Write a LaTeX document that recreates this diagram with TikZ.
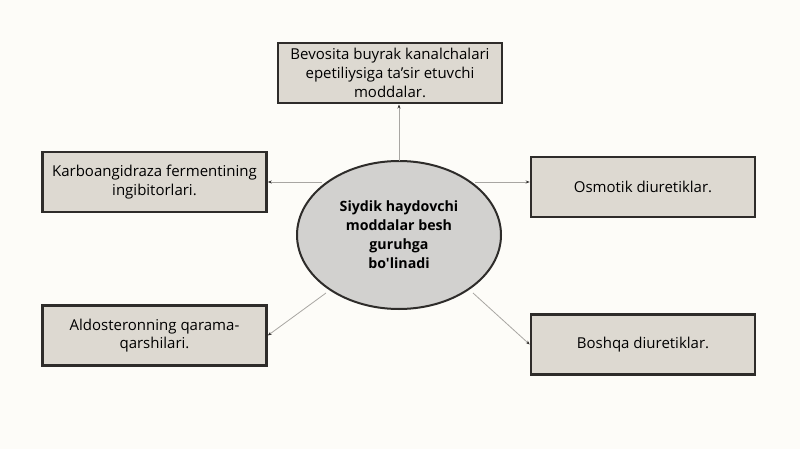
\documentclass[tikz,border=0pt]{standalone}
\usepackage{fontspec}
\setmainfont{Open Sans}[Ligatures=TeXOff]
\usetikzlibrary{shapes.geometric,arrows.meta}
\definecolor{bg}{HTML}{FDFCF8}
\definecolor{boxfill}{HTML}{DDD9D1}
\definecolor{ellfill}{HTML}{D2D1CF}
\definecolor{edge}{HTML}{2E2C2A}
\definecolor{conn}{HTML}{A8A6A2}
\tikzset{
  x=1pt,y=-1pt,
  box/.style={draw=edge,line width=2.6pt,fill=boxfill,minimum width=224pt,minimum height=60pt,align=center,inner sep=1pt,font=\fontsize{15}{18.7}\selectfont,text=black},
  hub/.style={ellipse,draw=edge,line width=2pt,fill=ellfill,minimum width=204pt,minimum height=148pt,align=center,font=\fontsize{14.2}{19}\selectfont\bfseries,inner sep=0pt},
  conn/.style={draw=conn,line width=0.8pt,-{Stealth[length=4pt,width=3pt,color=edge]}}
}
\begin{document}
\begin{tikzpicture}
\fill[bg] (0,0) rectangle (800,449);
\useasboundingbox (0,0) rectangle (800,449);
\node[hub] (c) at (399,235) {Siydik haydovchi\\moddalar besh\\guruhga\\bo'linadi};
\node[box] (t) at (390,73) {Bevosita buyrak kanalchalari\\epetiliysiga ta’sir etuvchi\\moddalar.};
\node[box] (lu) at (154.5,182) {Karboangidraza fermentining\\ingibitorlari.};
\node[box] (ll) at (154.5,335.5) {Aldosteronning qarama-\\qarshilari.};
\node[box] (ru) at (643,187) {Osmotik diuretiklar.};
\node[box] (rl) at (643,344.5) {Boshqa diuretiklar.};
\coordinate (ct) at (399,161);
\coordinate (cl) at (322,182);
\coordinate (cr) at (475,182);
\coordinate (cll) at (326,293);
\coordinate (crl) at (473,293);
\draw[conn] (ct) -- (399,104.5) coordinate (tb);
\draw[conn] (cl) -- (lu.east |- cl);
\draw[conn] (cr) -- (ru.west |- cr);
\draw[conn] (cll) -- (ll.east);
\draw[conn] (crl) -- (rl.west);
\end{tikzpicture}
\end{document}
